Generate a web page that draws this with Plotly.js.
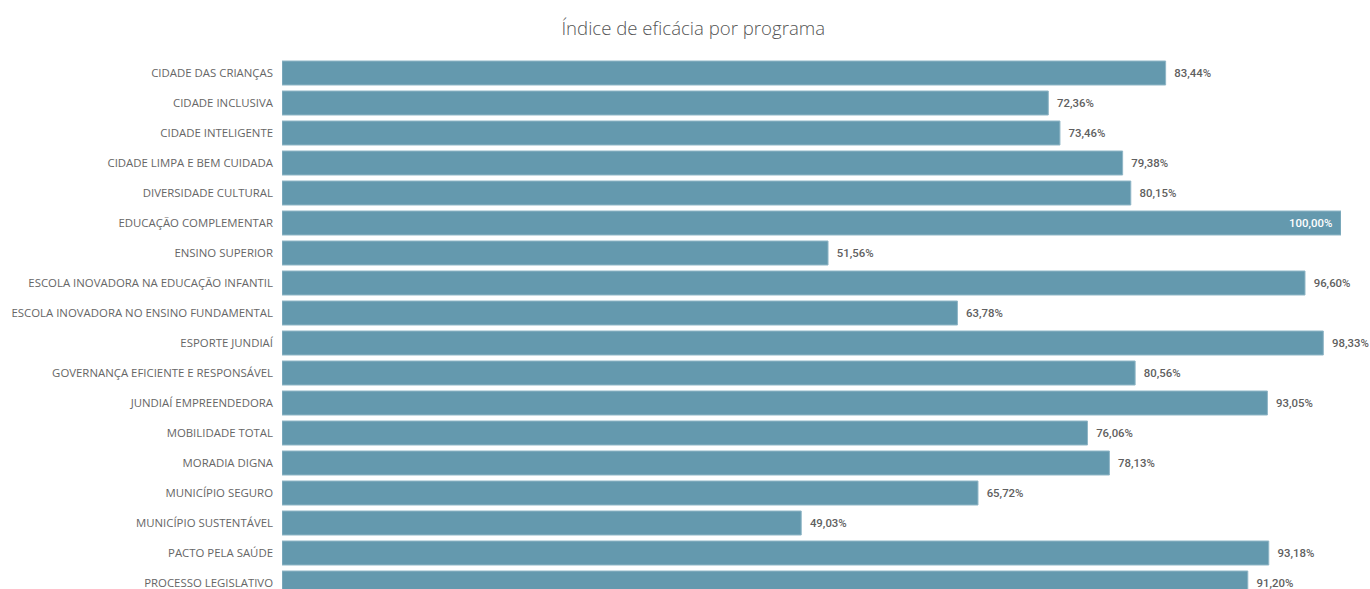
<!DOCTYPE html>
<html>
<head>
<meta charset="utf-8">
<script src="https://cdn.plot.ly/plotly-3.0.1.min.js"></script>
<style>html,body{margin:0;padding:0;background:#fff;overflow:hidden;}#chart{width:1370px;height:589px;}</style>
</head>
<body>
<div id="chart"></div>
<script>
const programas = [
  "CIDADE DAS CRIANÇAS",
  "CIDADE INCLUSIVA",
  "CIDADE INTELIGENTE",
  "CIDADE LIMPA E BEM CUIDADA",
  "DIVERSIDADE CULTURAL",
  "EDUCAÇÃO COMPLEMENTAR",
  "ENSINO SUPERIOR",
  "ESCOLA INOVADORA NA EDUCAÇÃO INFANTIL",
  "ESCOLA INOVADORA NO ENSINO FUNDAMENTAL",
  "ESPORTE JUNDIAÍ",
  "GOVERNANÇA EFICIENTE E RESPONSÁVEL",
  "JUNDIAÍ EMPREENDEDORA",
  "MOBILIDADE TOTAL",
  "MORADIA DIGNA",
  "MUNICÍPIO SEGURO",
  "MUNICÍPIO SUSTENTÁVEL",
  "PACTO PELA SAÚDE",
  "PROCESSO LEGISLATIVO"
];
const eficacia = [83.44, 72.36, 73.46, 79.38, 80.15, 100.00, 51.56, 96.60, 63.78, 98.33, 80.56, 93.05, 76.06, 78.13, 65.72, 49.03, 93.18, 91.20];

const fmt = v => v.toFixed(2).replace('.', ',') + '%';
const inside = eficacia.map(v => v >= 99.5);
const labels = eficacia.map((v, i) => inside[i] ? fmt(v) + '  ' : '  ' + fmt(v));

const trace = {
  type: 'bar',
  orientation: 'h',
  y: programas,
  x: eficacia,
  width: 0.8,
  marker: {color: '#6499AE', line: {color: '#8FB6C6', width: 1}},
  text: labels,
  textposition: inside.map(b => b ? 'inside' : 'outside'),
  insidetextanchor: 'end',
  textfont: {family: 'Roboto, sans-serif', size: 11.4, weight: 500, color: inside.map(b => b ? '#ffffff' : '#5f5f5f')},
  outsidetextfont: {family: 'Roboto, sans-serif', size: 11.4, weight: 500, color: '#5f5f5f'},
  insidetextfont: {family: 'Roboto, sans-serif', size: 11.4, weight: 500, color: '#ffffff'},
  cliponaxis: false,
  hoverinfo: 'none'
};

const layout = {
  width: 1370,
  height: 589,
  margin: {l: 282, r: 29, t: 58, b: 0, pad: 0},
  paper_bgcolor: '#ffffff',
  plot_bgcolor: '#ffffff',
  showlegend: false,
  title: {
    text: 'Índice de eficácia por programa',
    font: {family: '"Open Sans", sans-serif', size: 18.6, color: '#555555', weight: 300},
    x: 0.506, xref: 'container', xanchor: 'center',
    y: 0.952, yref: 'container', yanchor: 'middle'
  },
  xaxis: {range: [0, 100], visible: false, fixedrange: true},
  yaxis: {
    type: 'category',
    range: [17.2, -0.5],
    showgrid: false, zeroline: false, showline: false,
    ticks: '',
    ticklabelstandoff: 8,
    tickfont: {family: '"Open Sans", sans-serif', size: 11.4, color: '#666666'},
    fixedrange: true
  }
};
Plotly.newPlot('chart', [trace], layout, {displayModeBar: false, staticPlot: true});
</script>
</body>
</html>
